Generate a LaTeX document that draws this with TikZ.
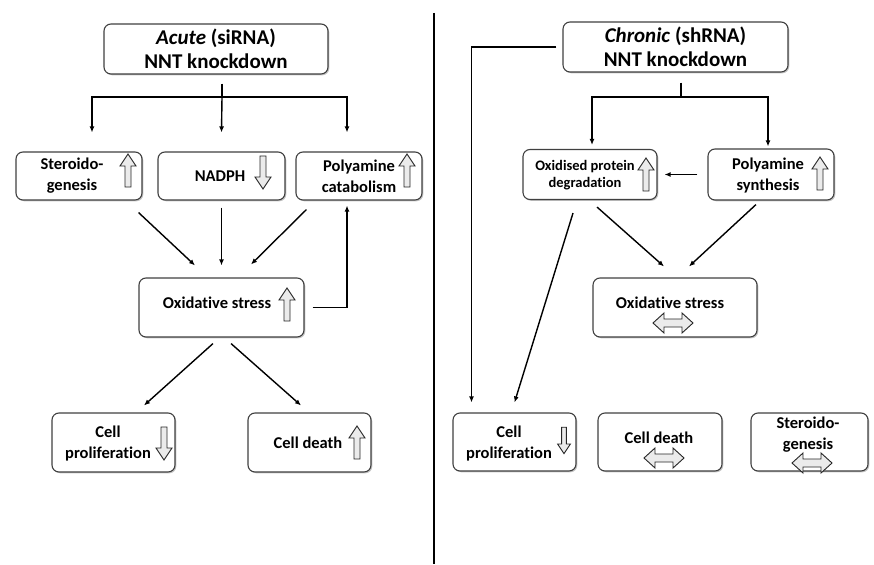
\documentclass[tikz,border=0pt]{standalone}
\usepackage{fontspec}
\setmainfont{Carlito}[Ligatures=NoCommon]
\usetikzlibrary{arrows.meta,shadows}

\newcommand{\headfont}{\fontsize{21}{24}\selectfont\bfseries}
\newcommand{\boxfont}{\fontsize{16.5}{21}\selectfont\bfseries}
\newcommand{\smallfont}{\fontsize{14.5}{17}\selectfont\bfseries}

\tikzset{
	box/.style={draw=black!75, line width=1.1pt, rounded corners=7pt, fill=white,
		drop shadow={shadow xshift=1.3pt, shadow yshift=-1.3pt, fill=black!45}},
	txt/.style={align=center, inner sep=0pt, font=\boxfont},
	arr/.style={-{Latex[length=6pt,width=5pt]}, line width=1.4pt},
	hollow/.style={draw=black!85, line width=0.9pt, fill=black!8, line join=miter},
	uparr/.pic={\draw[hollow] (-3,16)--(-3,-5)--(-8,-5)--(0,-17)--(8,-5)--(3,-5)--(3,16)--cycle;},
	downarr/.pic={\draw[hollow] (-3,-16)--(-3,5)--(-8,5)--(0,17)--(8,5)--(3,5)--(3,-16)--cycle;},
	lrarr/.pic={\draw[hollow] (-20,0)--(-9,-10)--(-9,-4)--(9,-4)--(9,-10)--(20,0)--(9,10)--(9,4)--(-9,4)--(-9,10)--cycle;}
}

\begin{document}
\begin{tikzpicture}[x=1pt,y=-1pt]
		\useasboundingbox (0,0) rectangle (874,564);
		% acute (left)
		\node[box, minimum width=224pt, minimum height=50pt, align=center, font=\headfont] (acute) at (216,49) {\textit{Acute} (siRNA)\\NNT knockdown};
		\node[box, minimum width=126pt, minimum height=48pt] (ster) at (79,176) {};
		\node[txt] (stert) at (72,176) {Steroido-\\genesis};
		\pic at (128,171) {uparr};
		\node[box, minimum width=127pt, minimum height=48pt] (nadph) at (221.5,176) {};
		\node[txt] (nadpht) at (220,176) {NADPH};
		\pic at (263,172) {downarr};
		\node[box, minimum width=126pt, minimum height=48pt] (pcat) at (359,176) {};
		\node[txt] (pcatt) at (359,176) {Polyamine\\catabolism};
		\pic at (407,171) {uparr};
		\node[box, minimum width=165pt, minimum height=59pt] (lox) at (221.5,307.5) {};
		\node[txt] (loxt) at (217,303) {Oxidative stress};
		\pic at (287,305) {uparr};
		\node[box, minimum width=123pt, minimum height=59pt] (lprol) at (113.5,442.5) {};
		\node[txt] (lprolt) at (108,443.5) {Cell\\proliferation};
		\pic at (164,443) {downarr};
		\node[box, minimum width=123pt, minimum height=59pt] (ldeath) at (309.5,442.5) {};
		\node[txt] (ldeatht) at (308,443) {Cell death};
		\pic at (357,443) {uparr};

		\coordinate (lsplit) at (222,97);
		\draw[line width=1.4pt] ([xshift=6pt,yshift=-9pt]acute.south) -- (lsplit);
		\draw[arr] (lsplit) -| ([xshift=13pt,yshift=19pt]ster.north);
		\draw[arr] (lsplit) -- ([yshift=19pt]nadph.north);
		\draw[arr] (lsplit) -| ([xshift=-12pt,yshift=19pt]pcat.north);
		\draw[arr] ([xshift=-4pt,yshift=-12pt]ster.south east) -- ([xshift=-26.5pt,yshift=12pt]lox.north);
		\draw[arr] ([yshift=-7pt]nadph.south) -- ([yshift=12pt]lox.north);
		\draw[arr] ([xshift=11pt,yshift=-9pt]pcat.south west) -- ([xshift=29.5pt,yshift=13pt]lox.north);
		\draw[arr] ([xshift=8pt]lox.east) -| ([xshift=-12pt,yshift=-5pt]pcat.south);
		\draw[arr] ([xshift=-8.5pt,yshift=-6pt]lox.south) -- ([xshift=30.5pt,yshift=7pt]lprol.north);
		\draw[arr] ([xshift=9.5pt,yshift=-6pt]lox.south) -- ([xshift=-8.5pt,yshift=7pt]ldeath.north);

		\draw[line width=2pt] (434,13) -- (434,564);

		% chronic (right)
		\node[box, minimum width=225pt, minimum height=50pt, align=center, font=\headfont] (chronic) at (675.5,47) {\textit{Chronic} (shRNA)\\NNT knockdown};
		\node[box, minimum width=134pt, minimum height=50pt] (opd) at (590,174.5) {};
		\node[txt, font=\smallfont] (opdt) at (585,175.5) {Oxidised protein\\degradation};
		\pic at (646,175) {uparr};
		\node[box, minimum width=126pt, minimum height=51pt] (psyn) at (771,174.5) {};
		\node[txt] (psynt) at (768,175.5) {Polyamine\\synthesis};
		\pic at (820,174) {uparr};
		\node[box, minimum width=164pt, minimum height=59pt] (rox) at (675,307.5) {};
		\node[txt] (roxt) at (670,303) {Oxidative stress};
		\pic at (673,323) {lrarr};
		\node[box, minimum width=123pt, minimum height=58pt] (rprol) at (514.5,442) {};
		\node[txt] (rprolt) at (509,443.5) {Cell\\proliferation};
		\pic[scale=0.8] at (564,440) {downarr};
		\node[box, minimum width=124pt, minimum height=58pt] (rdeath) at (660,442) {};
		\node[txt] (rdeatht) at (659,438) {Cell death};
		\pic at (664,458) {lrarr};
		\node[box, minimum width=117pt, minimum height=58pt] (rster) at (809.5,442) {};
		\node[txt] (rstert) at (808,435) {Steroido-\\genesis};
		\pic at (812,463) {lrarr};

		\coordinate (rsplit) at (681,97);
		\draw[line width=1.4pt] ([xshift=5.5pt,yshift=-10pt]chronic.south) -- (rsplit);
		\draw[arr] (rsplit) -| ([xshift=2pt,yshift=4pt]opd.north);
		\draw[arr] (rsplit) -| ([xshift=-3pt,yshift=2pt]psyn.north);
		\draw[arr] ([xshift=-10pt]psyn.west) -- ([xshift=7pt]opd.east);
		\draw[arr] ([xshift=-6pt]chronic.west) -| ([xshift=-43pt,yshift=10pt]rprol.north);
		\draw[arr] ([xshift=7pt,yshift=-7pt]opd.south) -- ([xshift=-11pt,yshift=11pt]rox.north);
		\draw[arr] ([xshift=-15pt,yshift=-4pt]psyn.south) -- ([xshift=14pt,yshift=11pt]rox.north);
		\draw[arr] ([xshift=-17pt,yshift=-13pt]opd.south) -- ([yshift=10pt]rprol.north);
		\end{tikzpicture}
\end{document}
